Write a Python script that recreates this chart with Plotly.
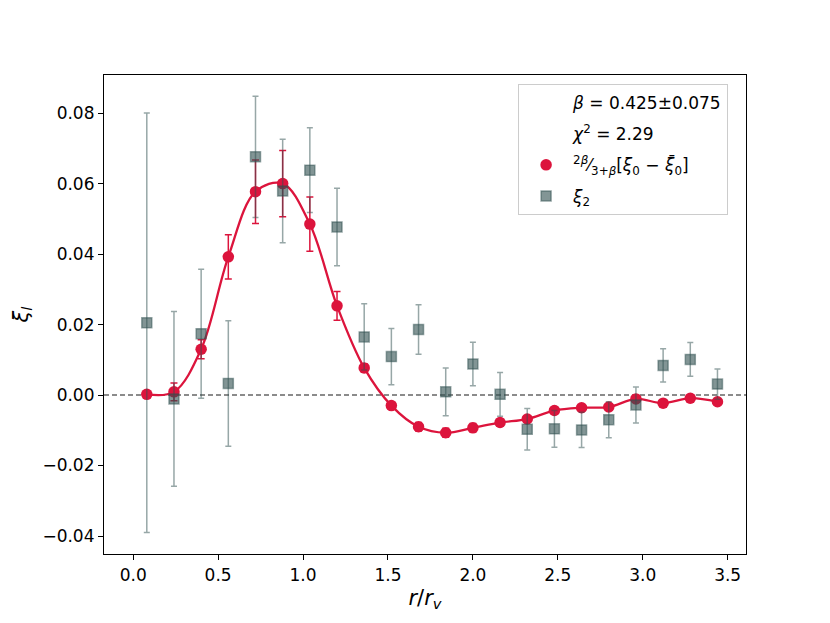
import plotly.graph_objects as go

# ---- data ----
r = [0.08, 0.24, 0.40, 0.56, 0.72, 0.88, 1.04, 1.20, 1.36, 1.52, 1.68,
     1.84, 2.00, 2.16, 2.32, 2.48, 2.64, 2.80, 2.96, 3.12, 3.28, 3.44]

xi0_scaled = [0.0002, 0.0009, 0.0130, 0.0392, 0.0577, 0.0600, 0.0485, 0.0253,
              0.0077, -0.0030, -0.0090, -0.0107, -0.0093, -0.0078, -0.0068,
              -0.0044, -0.0036, -0.0034, -0.0011, -0.0023, -0.0009, -0.0019]
xi0_err = [0.0005, 0.0025, 0.0027, 0.0063, 0.0090, 0.0094, 0.0077, 0.0041,
           0.0012, 0.0008, 0.0012, 0.0013, 0.0012, 0.0010, 0.0009, 0.0007,
           0.0006, 0.0006, 0.0005, 0.0005, 0.0004, 0.0004]

xi2 = [0.0205, -0.0011, 0.0174, 0.0033, 0.0676, 0.0579, 0.0638, 0.0477,
       0.0165, 0.0109, 0.0186, 0.0009, 0.0088, 0.0002, -0.0097, -0.0096,
       -0.0099, -0.0070, -0.0028, 0.0084, 0.0101, 0.0031]
xi2_err = [0.0595, 0.0248, 0.0183, 0.0178, 0.0172, 0.0147, 0.0120, 0.0110,
           0.0094, 0.0080, 0.0070, 0.0068, 0.0062, 0.0062, 0.0059, 0.0052,
           0.0050, 0.0051, 0.0051, 0.0047, 0.0048, 0.0043]

yticks = [-0.04, -0.02, 0.00, 0.02, 0.04, 0.06, 0.08]
xticks = [0.0, 0.5, 1.0, 1.5, 2.0, 2.5, 3.0, 3.5]

RED = "#DC143C"
GRAY_M = "rgba(47,79,79,0.6)"
GRAY_E = "rgba(47,79,79,0.5)"
FONT = "DejaVu Sans"

fig = go.Figure()

# legend-only text lines
fig.add_trace(go.Scatter(x=[None], y=[None], mode="markers",
                         marker=dict(color="rgba(0,0,0,0)", size=1),
                         name="<i>β</i> = 0.425±0.075", legendgroup="a"))
fig.add_trace(go.Scatter(x=[None], y=[None], mode="markers",
                         marker=dict(color="rgba(0,0,0,0)", size=1),
                         name="<i>χ</i><sup>2</sup> = 2.29", legendgroup="b"))

# smooth curve through the red points
fig.add_trace(go.Scatter(x=r, y=xi0_scaled, mode="lines",
                         line=dict(color=RED, width=2.3, shape="spline", smoothing=1.0),
                         showlegend=False, hoverinfo="skip"))

# red points with error bars
fig.add_trace(go.Scatter(
    x=r, y=xi0_scaled, mode="markers",
    marker=dict(color=RED, size=11.5, symbol="circle"),
    error_y=dict(type="data", array=xi0_err, color=RED, thickness=1.5, width=3.5),
    name="<sup>2<i>β</i></sup>⁄<sub>3+<i>β</i></sub>[<i>ξ</i><sub>0</sub> − <i>ξ̄</i><sub>0</sub>]",
    legendgroup="c"))

# gray squares with error bars
fig.add_trace(go.Scatter(
    x=r, y=xi2, mode="markers",
    marker=dict(color=GRAY_M, size=10, symbol="square",
                line=dict(color="rgba(47,79,79,0.5)", width=1.5)),
    error_y=dict(type="data", array=xi2_err, color=GRAY_E, thickness=1.5, width=3),
    name="<i>ξ</i><sub>2</sub>", legendgroup="d"))

# dashed zero line
fig.add_shape(type="line", xref="paper", yref="y", x0=0, x1=1, y0=0, y1=0,
              line=dict(color="#666666", width=1.5, dash="5px,3px"), layer="below")

axis_common = dict(showline=True, linecolor="black", linewidth=1.2, mirror=True,
                   ticks="outside", ticklen=5, tickwidth=1.2, tickcolor="black",
                   showgrid=False, zeroline=False,
                   tickfont=dict(family=FONT, size=17, color="black"))

fig.update_xaxes(range=[-0.172, 3.608], tickvals=xticks,
                 ticktext=[f"{v:.1f}" for v in xticks],
                 title=dict(text="<i>r</i>/<i>r</i><sub><i>v</i></sub>",
                            font=dict(family=FONT, size=21, color="black"), standoff=6),
                 **axis_common)
fig.update_yaxes(range=[-0.0451, 0.0908], tickvals=yticks,
                 ticktext=[("−" if v < 0 else "") + f"{abs(v):.2f}" for v in yticks],
                 title=dict(text="<i>ξ</i><sub><i>l</i></sub>",
                            font=dict(family=FONT, size=21, color="black"), standoff=8),
                 **axis_common)

fig.update_layout(
    width=830, height=623,
    margin=dict(l=96, r=92, t=67, b=77),
    plot_bgcolor="white", paper_bgcolor="white",
    font=dict(family=FONT, size=17, color="black"),
    legend=dict(x=0.645, y=0.981, xanchor="left", yanchor="top",
                bgcolor="rgba(255,255,255,0.9)", bordercolor="#cccccc", borderwidth=1,
                font=dict(family=FONT, size=17, color="black"),
                tracegroupgap=6, itemwidth=44),
)

fig.write_html("out.html")
